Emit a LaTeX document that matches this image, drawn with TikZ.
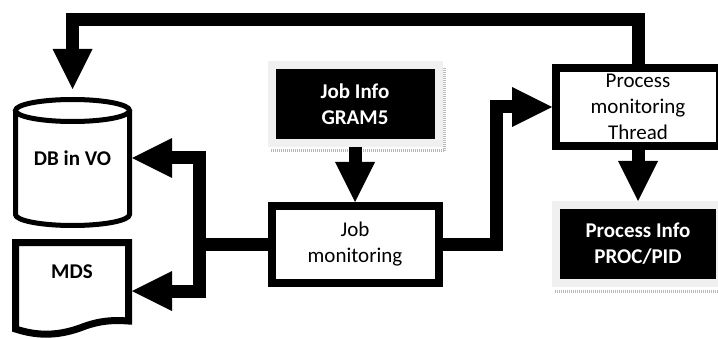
\documentclass[tikz,border=0pt]{standalone}
\usepackage{fontspec}
\setmainfont{Carlito}
\usetikzlibrary{arrows.meta,positioning}

\begin{document}
\begin{tikzpicture}[x=1pt,y=1pt,
    flow/.style={line width=13pt, -{Triangle[length=40pt,width=40pt,line width=0pt]}},
    pipe/.style={line width=13pt},
    procbox/.style={draw, line width=8pt, minimum width=167pt, minimum height=77pt, align=center, font=\fontsize{21}{26}\selectfont},
    infobox/.style={procbox, draw=gray!12, fill=black, text=white, font=\fontsize{21}{26}\selectfont\bfseries},
    store/.style={align=center, outer sep=0pt, font=\fontsize{21}{26}\selectfont\bfseries},
    shadowline/.style={gray!55, line width=3pt, dash pattern=on 1pt off 1pt}]
    \useasboundingbox (0,0) rectangle (718,338);
    \clip (0,0) rectangle (718,338);

    % boxes
    \node[infobox, minimum height=78pt] (jobinfo) at (355,234) {Job Info\\GRAM5};
    \node[procbox] (jobmon) at (355,93.5) {Job\\monitoring};
    \node[procbox, minimum width=164pt, minimum height=78pt] (procmon) at (638,231) {Process\\monitoring\\Thread};
    \node[infobox, minimum width=164pt, minimum height=78pt] (procinfo) at (638,94) {Process Info\\PROC/PID};
    \node[store, minimum width=119pt, minimum height=122pt] (db) at (72.5,180) {DB in VO};
    \node[store, minimum width=120pt] (mds) at (72,66) {MDS};

    % DB in VO
    \draw[line width=5pt] (72.5,227.5) ellipse [x radius=57, y radius=11];
    \draw[line width=5pt] (15.5,227.5) -- (15.5,123.5) arc[start angle=180, end angle=360, x radius=57, y radius=11] -- (129.5,227.5);

    % MDS
    \draw[line width=7pt] (15.5,9) -- (15.5,95.5) -- (128.5,95.5) -- (128.5,17)
      .. controls (115,18) and (100,18) .. (80,10) .. controls (60,3) and (40,1) .. cycle;

    % shadows
    \draw[shadowline] ([xshift=3pt,yshift=-4pt]jobinfo.south west) -| ([xshift=2pt,yshift=-6pt]jobinfo.north east);
    \draw[shadowline] ([xshift=3pt,yshift=-4pt]procinfo.south west) -- ([yshift=-4pt]procinfo.south east);

    % connectors
    \coordinate[left=68pt of jobmon.west] (splitL);
    \coordinate[right=54pt of jobmon.east] (turnR);
    \draw[pipe] (jobmon.west) -- (splitL);
    \draw[flow] (splitL) |- (db.east);
    \draw[flow] (splitL) |- ([yshift=-19pt]mds.east);
    \draw[flow] (jobinfo.south) -- (jobmon.north);
    \draw[flow] (jobmon.east) -- (turnR) |- (procmon.west);
    \draw[flow] (procmon.south) -- (procinfo.north);
    \draw[flow, shorten >=8pt] (procmon.north) -- ++(0,44) -| (db.north);
\end{tikzpicture}
\end{document}
